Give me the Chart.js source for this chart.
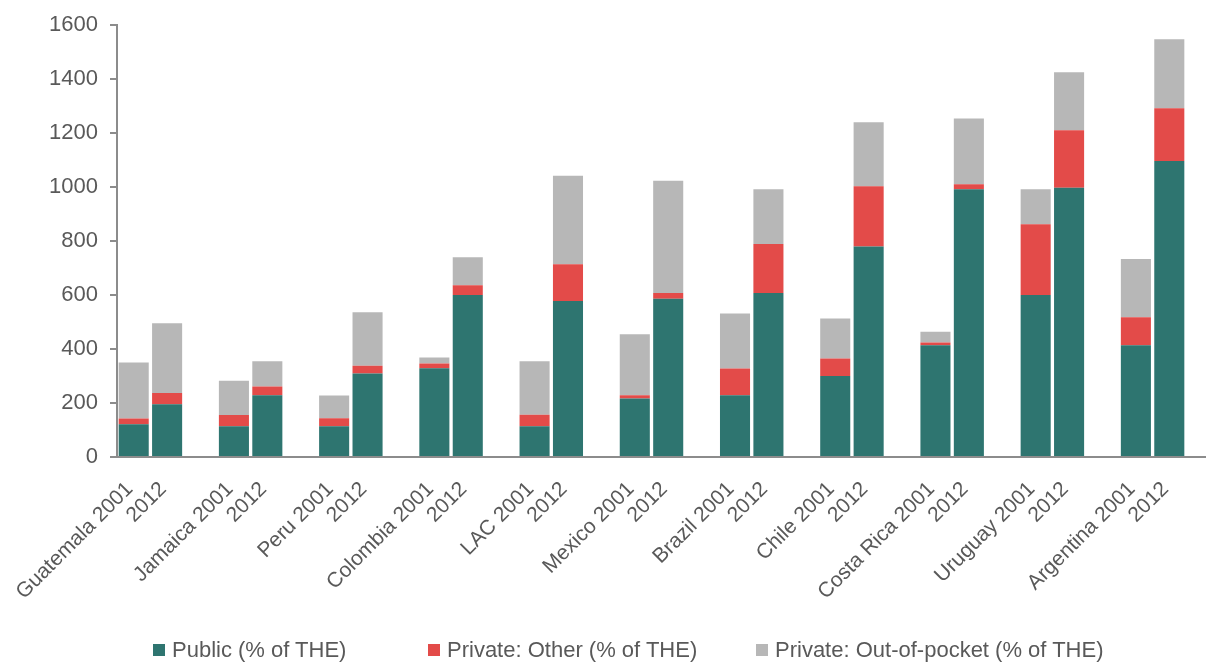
<!DOCTYPE html>
<html>
<head>
<meta charset="utf-8">
<script src="https://cdn.jsdelivr.net/npm/chart.js@4/dist/chart.umd.min.js"></script>
<style>
  body { margin: 0; background: #fff; }
  #wrap { position: relative; width: 1206px; height: 662px; }
  canvas { display: block; }
  .leyenda {
    position: absolute; top: 636px; height: 28px;
    display: flex; align-items: center;
    font-family: 'Liberation Sans', Arial, sans-serif; font-size: 22px; color: #595959;
    white-space: nowrap;
  }
  .leyenda span.caja { display: inline-block; width: 12px; height: 12px; margin-right: 7px; }
</style>
</head>
<body>
<div id="wrap">
  <canvas id="grafica" width="1206" height="662"></canvas>
</div>
<script>
const countries = ['Guatemala', 'Jamaica', 'Peru', 'Colombia', 'LAC', 'Mexico', 'Brazil', 'Chile', 'Costa Rica', 'Uruguay', 'Argentina'];
const years = ['2001', '2012'];

const public2001 = [121, 114, 114, 329, 114, 217, 229, 300, 414, 600, 414];
const public2012 = [195, 229, 309, 600, 578, 586, 608, 780, 992, 998, 1097];
const other2001 = [22, 42, 30, 17, 43, 12, 99, 65, 10, 262, 104];
const other2012 = [42, 32, 29, 36, 136, 22, 181, 223, 19, 213, 195];
const oop2001 = [207, 127, 84, 23, 198, 226, 204, 148, 40, 130, 216];
const oop2012 = [259, 94, 198, 104, 328, 416, 203, 237, 243, 215, 256];

const legendX = [153, 428, 756];

// each country: 2001, 2012, then an empty slot (not after the last one)
function interleave(a, b) {
   const out = [];
   a.forEach((v, i) => {
      out.push(v, b[i]);
      if (i < a.length - 1) out.push(null);
   });
   return out;
}

const labels = [];
countries.forEach((c, i) => {
   labels.push(c + ' ' + years[0], years[1]);
   if (i < countries.length - 1) labels.push('');
});

const font = "'Liberation Sans', Arial, sans-serif";
const textColor = '#595959';
const axisColor = '#8c8c8c';

// the x axis line runs on to the right edge of the picture
const ejeCompleto = {
   id: 'ejeCompleto',
   afterDraw(chart) {
      const { ctx, chartArea } = chart;
      ctx.save();
      ctx.strokeStyle = axisColor;
      ctx.lineWidth = 2;
      ctx.beginPath();
      ctx.moveTo(chartArea.right, chartArea.bottom);
      ctx.lineTo(chart.width, chartArea.bottom);
      ctx.stroke();
      ctx.restore();
   }
};

const ctx = document.getElementById('grafica').getContext('2d');

const chart = new Chart(ctx, {
   type: 'bar',
   data: {
      labels: labels,
      datasets: [{
         label: 'Public (% of THE)',
         data: interleave(public2001, public2012),
         backgroundColor: '#2e7570'
      }, {
         label: 'Private: Other (% of THE)',
         data: interleave(other2001, other2012),
         backgroundColor: '#e34b49'
      }, {
         label: 'Private: Out-of-pocket (% of THE)',
         data: interleave(oop2001, oop2012),
         backgroundColor: '#b7b7b7'
      }]
   },
   plugins: [ejeCompleto],
   options: {
      responsive: false,
      animation: false,
      datasets: {
         bar: {
            categoryPercentage: 1,
            barPercentage: 0.9
         }
      },
      layout: {
         padding: { left: 0, right: 20, top: 16, bottom: 0 }
      },
      plugins: {
         tooltip: { enabled: false },
         legend: { display: false }
      },
      scales: {
         x: {
            stacked: true,
            grid: { display: false },
            border: { display: true, color: axisColor, width: 2 },
            ticks: {
               autoSkip: false,
               minRotation: 45,
               maxRotation: 45,
               labelOffset: -4,
               padding: 12,
               color: textColor,
               font: { family: font, size: 21 }
            },
            afterFit: (scale) => { scale.height = 205; }
         },
         y: {
            stacked: true,
            min: 0,
            max: 1600,
            grid: {
               drawOnChartArea: false,
               drawTicks: true,
               tickLength: 7,
               color: axisColor,
               lineWidth: 2
            },
            border: { display: true, color: axisColor, width: 2 },
            ticks: {
               stepSize: 200,
               padding: 12,
               color: textColor,
               font: { family: font, size: 22 },
               callback: (v) => String(v)
            },
            afterFit: (scale) => { scale.width = 117; }
         }
      }
   }
});

// leyenda en HTML, a partir de los datasets
const wrap = document.getElementById('wrap');
chart.data.datasets.forEach((ds, i) => {
   const item = document.createElement('div');
   item.className = 'leyenda';
   item.style.left = legendX[i] + 'px';
   const caja = document.createElement('span');
   caja.className = 'caja';
   caja.style.background = ds.backgroundColor;
   item.appendChild(caja);
   item.appendChild(document.createTextNode(ds.label));
   wrap.appendChild(item);
});
</script>
</body>
</html>
